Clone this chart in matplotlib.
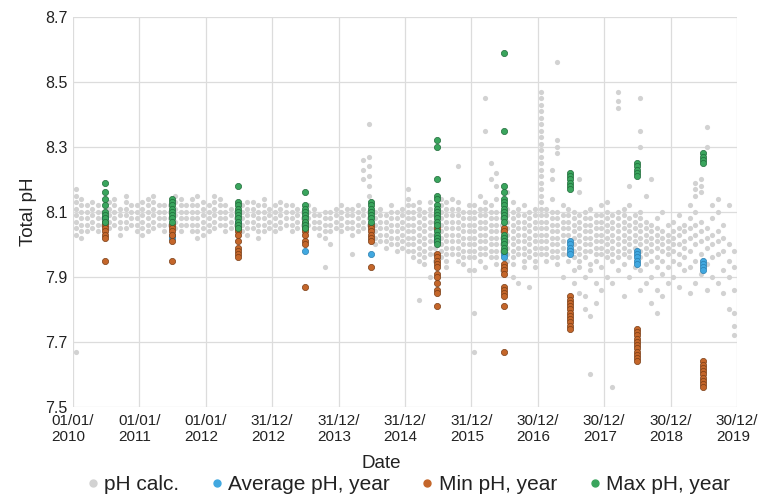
import matplotlib
matplotlib.use("Agg")
import matplotlib.pyplot as plt
import numpy as np
import pandas as pd
from matplotlib.lines import Line2D

plt.rcParams['font.family'] = ['Liberation Sans', 'DejaVu Sans']

# === Data ===
years = list(range(2010, 2020))

# per-year stats, one list per year
max_ph = [
    [8.19, 8.16, 8.14, 8.12, 8.10, 8.09, 8.08, 8.07],
    [8.14, 8.13, 8.12, 8.11, 8.10, 8.09, 8.08, 8.07],
    [8.18, 8.13, 8.12, 8.11, 8.10, 8.09, 8.08, 8.07, 8.06, 8.05],
    [8.16, 8.12, 8.11, 8.10, 8.09, 8.08, 8.07, 8.06, 8.05],
    [8.13, 8.12, 8.11, 8.10, 8.09, 8.08, 8.07],
    [8.32, 8.30, 8.20, 8.15, 8.14, 8.12, 8.11, 8.10, 8.09, 8.08, 8.07, 8.06, 8.04, 8.03, 8.02, 8.01, 8.00],
    [8.59, 8.35, 8.18, 8.16, 8.14, 8.13, 8.12, 8.11, 8.10, 8.09, 8.08, 8.07, 8.03, 8.02, 8.01, 8.00, 7.99, 7.98],
    [8.22, 8.21, 8.20, 8.19, 8.18, 8.17],
    [8.25, 8.24, 8.23, 8.22, 8.21],
    [8.28, 8.27, 8.26, 8.25],
]
min_ph = [
    [8.07, 8.06, 8.05, 8.04, 8.03, 8.02, 7.95],
    [8.06, 8.05, 8.04, 8.03, 8.01, 7.95],
    [8.05, 8.04, 8.03, 8.01, 7.99, 7.98, 7.97, 7.96],
    [8.07, 8.05, 8.04, 8.03, 8.01, 8.00, 7.87],
    [8.06, 8.05, 8.04, 8.03, 8.02, 8.01, 7.93],
    [8.05, 7.97, 7.96, 7.95, 7.94, 7.93, 7.91, 7.90, 7.88, 7.86, 7.85, 7.81],
    [8.05, 8.04, 7.94, 7.93, 7.92, 7.91, 7.87, 7.86, 7.85, 7.84, 7.81, 7.67],
    [7.84, 7.83, 7.82, 7.81, 7.80, 7.79, 7.78, 7.77, 7.76, 7.75, 7.74],
    [7.74, 7.73, 7.72, 7.71, 7.70, 7.69, 7.68, 7.67, 7.66, 7.65, 7.64],
    [7.64, 7.63, 7.62, 7.61, 7.60, 7.59, 7.58, 7.57, 7.56],
]
avg_ph = [
    [8.08],
    [8.03, 8.02],
    [8.07],
    [7.98],
    [7.97],
    [8.02, 8.01],
    [7.97, 7.96],
    [8.01, 8.00, 7.99, 7.98, 7.97],
    [7.98, 7.97, 7.96, 7.95, 7.94],
    [7.95, 7.94, 7.93, 7.92],
]

# pH calc., monthly samples (Jan..Dec) for each year
calc_2010 = [
    [7.67, 8.03, 8.05, 8.07, 8.09, 8.11, 8.13, 8.15, 8.17],
    [8.02, 8.04, 8.06, 8.08, 8.10, 8.12, 8.14],
    [8.04, 8.06, 8.08, 8.10, 8.12],
    [8.05, 8.07, 8.09, 8.11, 8.13],
    [8.04, 8.06, 8.08, 8.10, 8.12],
    [8.06, 8.08, 8.10],
    [8.05, 8.07, 8.09, 8.11, 8.13],
    [8.06, 8.08, 8.10, 8.12, 8.14],
    [8.03, 8.05, 8.07, 8.09, 8.11],
    [8.05, 8.07, 8.09, 8.11, 8.13, 8.15],
    [8.06, 8.08, 8.10, 8.12],
    [8.04, 8.06, 8.08, 8.10, 8.12],
]
calc_2011 = [
    [8.03, 8.05, 8.07, 8.09, 8.11, 8.13],
    [8.04, 8.06, 8.08, 8.10, 8.12, 8.14],
    [8.05, 8.07, 8.09, 8.11, 8.13, 8.15],
    [8.06, 8.08, 8.10, 8.12],
    [8.04, 8.06, 8.08, 8.10, 8.12],
    [8.06, 8.08, 8.10, 8.12],
    [8.05, 8.07, 8.09, 8.11, 8.13, 8.15],
    [8.04, 8.06, 8.08, 8.10, 8.12, 8.14],
    [8.06, 8.08, 8.10, 8.12],
    [8.04, 8.06, 8.08, 8.10, 8.12, 8.14],
    [8.02, 8.04, 8.06, 8.08, 8.10, 8.12, 8.15],
    [8.03, 8.05, 8.07, 8.09, 8.11, 8.13],
]
calc_2012 = [
    [8.04, 8.06, 8.08, 8.10, 8.12],
    [8.05, 8.07, 8.09, 8.11, 8.13, 8.15],
    [8.06, 8.08, 8.10, 8.12, 8.14],
    [8.04, 8.06, 8.08, 8.10, 8.12],
    [8.05, 8.07, 8.09, 8.11],
    [8.06, 8.08, 8.10],
    [8.04, 8.06, 8.08, 8.10, 8.12],
    [8.03, 8.05, 8.07, 8.09, 8.11, 8.13],
    [8.05, 8.07, 8.09, 8.11, 8.13],
    [8.02, 8.04, 8.06, 8.08, 8.10, 8.12],
    [8.04, 8.06, 8.08, 8.10, 8.12, 8.14],
    [8.05, 8.07, 8.09, 8.11],
]
calc_2013 = [
    [8.04, 8.06, 8.08, 8.10, 8.12],
    [8.05, 8.07, 8.09, 8.11, 8.13],
    [8.06, 8.08, 8.10, 8.12],
    [8.04, 8.06, 8.08, 8.10, 8.12],
    [8.05, 8.07, 8.09, 8.11],
    [8.06, 8.08, 8.10],
    [8.06, 8.08, 8.10, 8.12],
    [8.05, 8.07, 8.09, 8.11],
    [8.03, 8.05, 8.07, 8.09],
    [7.93, 8.02, 8.04, 8.06, 8.08, 8.10],
    [8.00, 8.04, 8.06, 8.08, 8.10],
    [8.05, 8.07, 8.09, 8.11],
]
calc_2014 = [
    [8.04, 8.06, 8.08, 8.10, 8.12],
    [8.05, 8.07, 8.09, 8.11],
    [7.97, 8.03, 8.05, 8.07, 8.09, 8.11],
    [8.04, 8.06, 8.08, 8.10, 8.12],
    [8.05, 8.07, 8.09, 8.11, 8.20, 8.23, 8.26],
    [8.06, 8.08, 8.10, 8.15, 8.18, 8.21, 8.24, 8.27, 8.37],
    [8.00, 8.02, 8.04, 8.06, 8.08, 8.10],
    [8.01, 8.03, 8.05, 8.07, 8.09, 8.11],
    [7.99, 8.01, 8.03, 8.05, 8.07, 8.09],
    [8.00, 8.02, 8.04, 8.06, 8.08, 8.10, 8.12],
    [7.98, 8.00, 8.02, 8.04, 8.06, 8.08, 8.10],
    [7.99, 8.01, 8.03, 8.05, 8.07, 8.09, 8.11],
]
calc_2015 = [
    [7.98, 8.00, 8.02, 8.04, 8.06, 8.08, 8.10, 8.12, 8.14, 8.17],
    [7.96, 7.98, 8.00, 8.02, 8.04, 8.06, 8.08, 8.10, 8.12],
    [7.83, 7.95, 7.97, 7.99, 8.01, 8.03, 8.05, 8.07, 8.09, 8.11, 8.13],
    [7.94, 7.96, 7.98, 8.00, 8.02, 8.04, 8.06, 8.08, 8.10],
    [7.90, 7.97, 7.99, 8.01, 8.03, 8.05, 8.07, 8.09, 8.11, 8.13],
    [7.95, 7.97, 7.99, 8.01, 8.03, 8.05, 8.07, 8.09],
    [7.96, 7.98, 8.00, 8.02, 8.04, 8.06, 8.08, 8.10, 8.12, 8.14],
    [7.93, 7.95, 7.97, 7.99, 8.01, 8.03, 8.05, 8.07, 8.09, 8.11, 8.13],
    [7.97, 7.99, 8.01, 8.03, 8.05, 8.07, 8.09, 8.11, 8.14],
    [7.95, 7.97, 7.99, 8.01, 8.03, 8.05, 8.07, 8.09, 8.11, 8.13, 8.24],
    [7.94, 7.96, 7.98, 8.00, 8.02, 8.04, 8.06, 8.08, 8.10],
    [7.92, 7.96, 7.98, 8.00, 8.02, 8.04, 8.06, 8.08, 8.10, 8.12],
]
calc_2016 = [
    [7.67, 7.79, 7.92, 7.96, 7.98, 8.00, 8.02, 8.04, 8.06, 8.08, 8.10, 8.12],
    [7.95, 7.97, 7.99, 8.01, 8.03, 8.05, 8.07, 8.09, 8.11, 8.15],
    [7.93, 7.97, 7.99, 8.01, 8.03, 8.05, 8.07, 8.09, 8.11, 8.13, 8.35, 8.45],
    [7.96, 7.98, 8.00, 8.02, 8.04, 8.06, 8.08, 8.10, 8.12, 8.20, 8.25],
    [7.94, 7.96, 7.98, 8.00, 8.02, 8.04, 8.06, 8.08, 8.10, 8.14, 8.18, 8.22],
    [7.92, 7.98, 8.00, 8.02, 8.04, 8.06, 8.08, 8.10],
    [7.95, 7.97, 7.99, 8.01, 8.03, 8.05, 8.07, 8.09, 8.11, 8.16],
    [7.90, 7.94, 7.96, 7.98, 8.00, 8.02, 8.04, 8.06, 8.08, 8.10, 8.13],
    [7.88, 7.97, 7.99, 8.01, 8.03, 8.05, 8.07, 8.09, 8.11],
    [7.93, 7.95, 7.97, 7.99, 8.01, 8.03, 8.05, 8.07, 8.09, 8.12],
    [7.87, 7.96, 7.98, 8.00, 8.02, 8.04, 8.06, 8.08, 8.10],
    [7.93, 7.95, 7.97, 7.99, 8.01, 8.03, 8.05, 8.07, 8.09, 8.11],
]
calc_2017 = [
    [7.97, 7.99, 8.01, 8.03, 8.05, 8.07, 8.09, 8.11, 8.13, 8.15, 8.17, 8.19, 8.21,
     8.23, 8.25, 8.27, 8.29, 8.31, 8.33, 8.35, 8.37, 8.39, 8.41, 8.43, 8.45, 8.47],
    [7.95, 7.97, 7.99, 8.01, 8.03, 8.05, 8.07, 8.09, 8.11],
    [7.96, 7.98, 8.00, 8.02, 8.04, 8.06, 8.08, 8.10, 8.14, 8.20, 8.23],
    [7.94, 7.96, 7.98, 8.00, 8.02, 8.04, 8.06, 8.08, 8.10, 8.28, 8.30, 8.32, 8.56],
    [7.90, 7.97, 7.99, 8.01, 8.03, 8.05, 8.07, 8.09, 8.12],
    [7.95, 7.97, 8.03, 8.05, 8.07, 8.09, 8.11],
    [7.88, 7.92, 7.96, 7.98, 8.00, 8.02, 8.04, 8.06, 8.08, 8.10],
    [7.85, 7.93, 7.95, 7.97, 7.99, 8.01, 8.03, 8.05, 8.07, 8.09, 8.16, 8.20],
    [7.80, 7.84, 7.90, 7.96, 7.98, 8.00, 8.02, 8.04, 8.06, 8.08, 8.10],
    [7.60, 7.78, 7.92, 7.94, 7.98, 8.00, 8.02, 8.04, 8.06, 8.08, 8.11],
    [7.82, 7.88, 7.95, 7.97, 7.99, 8.01, 8.03, 8.05, 8.07, 8.09],
    [7.86, 7.93, 7.97, 7.99, 8.01, 8.03, 8.05, 8.07, 8.09, 8.12],
]
calc_2018 = [
    [7.90, 7.96, 7.98, 8.00, 8.02, 8.04, 8.06, 8.08, 8.10, 8.13],
    [7.56, 7.88, 7.95, 7.97, 7.99, 8.01, 8.03, 8.05, 8.07, 8.09],
    [7.92, 7.96, 7.98, 8.00, 8.02, 8.04, 8.06, 8.08, 8.10, 8.42, 8.44, 8.47],
    [7.84, 7.94, 7.97, 7.99, 8.01, 8.03, 8.05, 8.07, 8.09, 8.11],
    [7.90, 7.96, 7.98, 8.00, 8.02, 8.04, 8.06, 8.08, 8.12, 8.18],
    [7.93, 7.99, 8.01, 8.03, 8.05, 8.07, 8.09],
    [7.86, 7.92, 7.96, 7.98, 8.00, 8.02, 8.04, 8.06, 8.08, 8.10, 8.30, 8.35, 8.45],
    [7.88, 7.94, 7.97, 7.99, 8.01, 8.03, 8.05, 8.07, 8.15],
    [7.82, 7.90, 7.95, 7.98, 8.00, 8.02, 8.04, 8.06, 8.20],
    [7.79, 7.86, 7.93, 7.96, 7.99, 8.01, 8.03, 8.05, 8.08],
    [7.84, 7.91, 7.95, 7.98, 8.00, 8.02, 8.04, 8.10],
    [7.88, 7.93, 7.97, 7.99, 8.01, 8.03, 8.06],
]
calc_2019 = [
    [7.90, 7.95, 7.98, 8.00, 8.02, 8.04, 8.07],
    [7.87, 7.94, 7.97, 8.00, 8.03, 8.05, 8.09],
    [7.92, 7.96, 7.99, 8.01, 8.04, 8.06],
    [7.85, 7.93, 7.98, 8.02, 8.05, 8.08, 8.12],
    [7.88, 7.95, 8.00, 8.03, 8.06, 8.10, 8.15, 8.17, 8.19],
    [7.91, 7.97, 8.01, 8.04, 8.07, 8.16, 8.18, 8.20],
    [7.86, 7.94, 7.99, 8.02, 8.05, 8.30, 8.36],
    [7.90, 7.96, 8.00, 8.03, 8.08, 8.12],
    [7.88, 7.97, 8.01, 8.04, 8.10, 8.14],
    [7.85, 7.92, 7.98, 8.02, 8.06],
    [7.80, 7.90, 7.95, 8.00, 8.12],
    [7.72, 7.75, 7.79, 7.86, 7.93, 7.98],
]
calc_by_year = [calc_2010, calc_2011, calc_2012, calc_2013, calc_2014,
                calc_2015, calc_2016, calc_2017, calc_2018, calc_2019]

start = pd.Timestamp("2010-01-01")
tick_dates = pd.date_range(start, periods=11, freq="365D")
tick_labels = [d.strftime("%d/%m/\n%Y") for d in tick_dates]

# === Build points ===
gx, gy = [], []
for i, months in enumerate(calc_by_year):
    for m, vals in enumerate(months):
        d = start + pd.Timedelta(days=i * 365 + m * 365 / 12 + 15)
        gx += [d] * len(vals)
        gy += vals

def stack(series):
    xs, ys = [], []
    for i, vals in enumerate(series):
        d = start + pd.Timedelta(days=i * 365 + 178)
        xs += [d] * len(vals)
        ys += vals
    return xs, ys

c_gray = "#d2d2d2"
c_blue = "#41a8e0"
c_orange = "#c4662a"
c_green = "#3aa55d"

fig = plt.figure(figsize=(7.58, 4.95), dpi=100)
ax = fig.add_axes([0.0963, 0.1778, 0.8760, 0.7879])

ax.scatter(gx, gy, s=14, color=c_gray, linewidths=0, zorder=2)
x, y = stack(avg_ph)
ax.scatter(x, y, s=20, color=c_blue, edgecolors="#2a7fb0", linewidths=0.5, zorder=3)
x, y = stack(min_ph)
ax.scatter(x, y, s=20, color=c_orange, edgecolors="#7a3d15", linewidths=0.5, zorder=4)
x, y = stack(max_ph)
ax.scatter(x, y, s=20, color=c_green, edgecolors="#1f6b3a", linewidths=0.5, zorder=5)

ax.set_xlim(tick_dates[0], tick_dates[-1])
ax.set_ylim(7.5, 8.7)
ax.set_yticks([7.5, 7.7, 7.9, 8.1, 8.3, 8.5, 8.7])
ax.set_yticklabels(["7.5", "7.7", "7.9", "8.1", "8.3", "8.5", "8.7"])
ax.set_xticks(tick_dates)
ax.set_xticklabels(tick_labels, multialignment="left")
ax.tick_params(length=0, labelsize=11, colors="#222222", pad=5)
ax.tick_params(axis="y", labelsize=11.5, pad=4)
for s in ax.spines.values():
    s.set_visible(False)
ax.grid(True, color="#dcdcdc", linewidth=0.9, zorder=0)
ax.set_axisbelow(True)

ax.set_ylabel("Total pH", fontsize=13.5, color="#222222", labelpad=6)
fig.text(0.503, 0.055, "Date", ha="center", fontsize=13.5, color="#222222")

handles = [
    Line2D([], [], marker="o", linestyle="", color=c_gray, markersize=5),
    Line2D([], [], marker="o", linestyle="", color=c_blue, markersize=5),
    Line2D([], [], marker="o", linestyle="", color=c_orange, markersize=5),
    Line2D([], [], marker="o", linestyle="", color=c_green, markersize=5),
]
fig.legend(handles, ["pH calc.", "Average pH, year", "Min pH, year", "Max pH, year"],
           loc="lower center", bbox_to_anchor=(0.540, -0.036), ncol=4, frameon=False,
           fontsize=15, handlelength=0.4, handletextpad=0.35, columnspacing=1.6,
           labelcolor="#222222")

fig.savefig("out.png", dpi=100)
